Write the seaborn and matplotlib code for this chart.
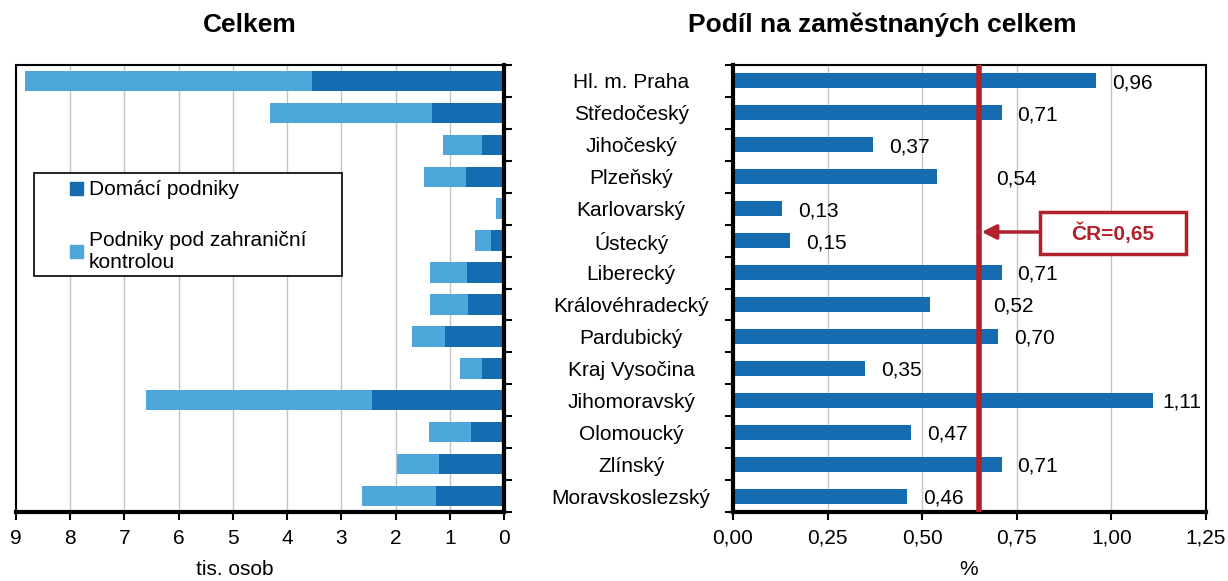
import numpy as np
import pandas as pd
import matplotlib
matplotlib.use('Agg')
import matplotlib.pyplot as plt
import seaborn as sns
from matplotlib.patches import Rectangle, Patch

# Data
regions = ['Hl. m. Praha', 'Středočeský', 'Jihočeský', 'Plzeňský', 'Karlovarský',
           'Ústecký', 'Liberecký', 'Královéhradecký', 'Pardubický', 'Kraj Vysočina',
           'Jihomoravský', 'Olomoucký', 'Zlínský', 'Moravskoslezský']
domestic = [3.54, 1.33, 0.41, 0.71, 0.02, 0.24, 0.69, 0.66, 1.08, 0.41, 2.44, 0.60, 1.20, 1.26]
foreign = [5.30, 2.99, 0.72, 0.77, 0.13, 0.30, 0.67, 0.71, 0.61, 0.40, 4.16, 0.78, 0.77, 1.35]
share = [0.96, 0.71, 0.37, 0.54, 0.13, 0.15, 0.71, 0.52, 0.70, 0.35, 1.11, 0.47, 0.71, 0.46]
cr_value = 0.65

df = pd.DataFrame({'region': regions, 'domestic': domestic, 'foreign': foreign, 'share': share})
df['total'] = df['domestic'] + df['foreign']

dark = '#156CB0'
light = '#4EA7DA'
red = '#B2202A'
grid_col = '#C4C4C4'

sns.set_style('ticks')
plt.rcParams['font.family'] = ['Liberation Sans', 'DejaVu Sans']
plt.rcParams['font.size'] = 15
for key in ['text.color', 'axes.labelcolor', 'xtick.color', 'ytick.color']:
    plt.rcParams[key] = 'black'

fig = plt.figure(figsize=(12.28, 5.81), dpi=100)
ax1 = fig.add_axes([16 / 1228, 69 / 581, 488 / 1228, 447 / 581])
ax2 = fig.add_axes([733 / 1228, 69 / 581, 473 / 1228, 447 / 581])

# Left panel: stacked bars, reversed axis
sns.barplot(data=df, x='total', y='region', color=light, width=0.64, saturation=1,
            linewidth=0, ax=ax1)
sns.barplot(data=df, x='domestic', y='region', color=dark, width=0.64, saturation=1,
            linewidth=0, ax=ax1)
ax1.set_xlim(9, 0)
ax1.set_ylim(13.5, -0.5)
ax1.set_xticks(range(10))
ax1.yaxis.tick_right()
ax1.set_yticks(np.arange(-0.5, 14, 1))
ax1.set_yticklabels([])
ax1.set_ylabel('')
ax1.tick_params(axis='y', right=True, left=False, length=6, width=1.5, color='black')
ax1.tick_params(axis='x', bottom=True, length=6, width=1.5, pad=6, labelsize=15, color='black')
ax1.xaxis.grid(True, color=grid_col, lw=1)
ax1.set_axisbelow(True)
for s, w in [('left', 1.5), ('top', 1.5), ('right', 3), ('bottom', 3)]:
    ax1.spines[s].set_visible(True)
    ax1.spines[s].set_linewidth(w)
    ax1.spines[s].set_color('black')
ax1.set_xlabel('tis. osob', fontsize=15)
ax1.xaxis.set_label_coords(0.449, -0.108)

# legend box
ax1.add_patch(Rectangle((0.037, 0.528), 0.631, 0.23, transform=ax1.transAxes,
                        facecolor='white', edgecolor='black', lw=1.2, zorder=4))
handles = [Patch(color=dark), Patch(color=light)]
leg = ax1.legend(handles, ['Domácí podniky', 'Podniky pod zahraniční\nkontrolou'],
                 loc='upper left', bbox_to_anchor=(0.09, 0.765), frameon=False,
                 handlelength=0.6, handleheight=0.6, handletextpad=0.3,
                 labelspacing=1.5, borderpad=0, fontsize=15)
leg.set_zorder(5)

# Right panel: share of employment
sns.barplot(data=df, x='share', y='region', color=dark, width=0.47, saturation=1,
            linewidth=0, ax=ax2)
ax2.set_xlim(0, 1.25)
ax2.set_ylim(13.5, -0.5)
ticks = np.arange(0, 1.26, 0.25)
ax2.set_xticks(ticks)
ax2.set_xticklabels([f'{t:.2f}'.replace('.', ',') for t in ticks])
ax2.set_yticks(range(len(regions)))
ax2.set_yticklabels(regions, ha='center')
ax2.set_yticks(np.arange(-0.5, 14, 1), minor=True)
ax2.tick_params(axis='y', which='major', length=0, pad=73.4, labelsize=15)
ax2.tick_params(axis='y', which='minor', left=True, length=6, width=1.5, color='black')
ax2.tick_params(axis='x', bottom=True, length=6, width=1.5, pad=6, labelsize=15, color='black')
ax2.xaxis.grid(True, color=grid_col, lw=1)
ax2.set_axisbelow(True)
ax2.set_ylabel('')
for s, w in [('left', 3), ('bottom', 3), ('top', 1.5), ('right', 1.5)]:
    ax2.spines[s].set_visible(True)
    ax2.spines[s].set_linewidth(w)
    ax2.spines[s].set_color('black')
ax2.set_xlabel('%', fontsize=15)
ax2.xaxis.set_label_coords(0.499, -0.108)

# value labels (some were moved clear of the red line in the original)
moved = {3: 0.695, 7: 0.687, 10: 1.135}
for i, v in enumerate(share):
    x = moved.get(i, v + 0.042)
    ax2.text(x, i + 0.06, f'{v:.2f}'.replace('.', ','), ha='left', va='center', fontsize=15)

ax2.axvline(cr_value, color=red, lw=4, zorder=5)
ax2.annotate('', xy=(0.657, 4.73), xytext=(0.811, 4.73),
             arrowprops=dict(arrowstyle='-|>', color=red, lw=2.5, mutation_scale=22,
                             shrinkA=0, shrinkB=0), zorder=6)
ax2.add_patch(Rectangle((0.811, 4.10), 0.386, 1.32, facecolor='white', edgecolor=red,
                        lw=2.5, zorder=6, clip_on=False))
ax2.text(1.004, 4.78, 'ČR=0,65', ha='center', va='center', color=red,
         fontsize=15, fontweight='bold', zorder=7)

fig.text(250 / 1228, 1 - 25 / 581, 'Celkem', ha='center', va='center',
         fontsize=19, fontweight='bold')
fig.text(882 / 1228, 1 - 25 / 581, 'Podíl na zaměstnaných celkem', ha='center', va='center',
         fontsize=19, fontweight='bold')

fig.savefig('out.png', dpi=100)
